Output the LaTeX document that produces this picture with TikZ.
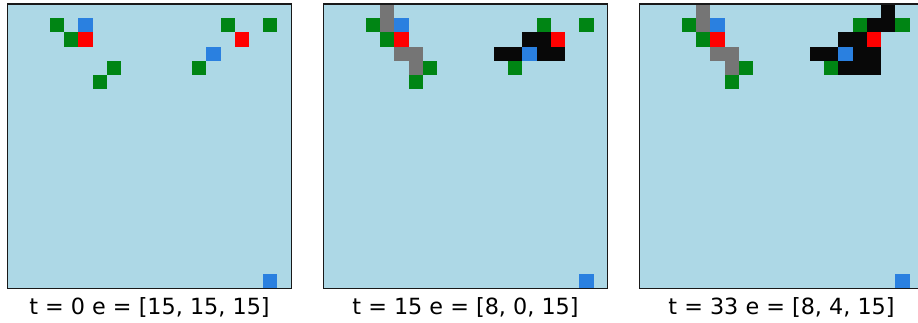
\documentclass[tikz,border=0pt]{standalone}
\usepackage{fontspec}
\setmainfont{DejaVu Sans}
\usepackage{xcolor}

\definecolor{gridbg}{HTML}{ADD8E6}
\definecolor{agentgreen}{HTML}{008514}
\definecolor{agentblue}{HTML}{2A80E0}
\definecolor{agentred}{HTML}{FF0000}
\definecolor{trailgray}{HTML}{757575}
\definecolor{trailblack}{HTML}{080808}

\tikzset{
	panel/.style={draw=black!90,line width=1.5pt},
	cellbox/.style={fill=#1,draw=none},
	caption/.style={font=\fontsize{22.3}{26}\selectfont,anchor=base}
}

\begin{document}
\begin{tikzpicture}[x=14.22pt,y=-14.22pt]
	\clip (-0.513,-0.281) rectangle (64.04,22.363);
	\useasboundingbox (-0.513,-0.281) rectangle (64.04,22.363);

	% ---------------- t = 0 (Left) ----------------
	\begin{scope}
		\fill[gridbg] (0,0) rectangle (20,20);
		\foreach \c/\r in {3/1,4/2,7/4,6/5,15/1,18/1,13/4}
			\fill[cellbox=agentgreen] (\c,\r) rectangle ++(1,1);
		\foreach \c/\r in {5/1,14/3,18/19}
			\fill[cellbox=agentblue] (\c,\r) rectangle ++(1,1);
		\foreach \c/\r in {5/2,16/2}
			\fill[cellbox=agentred] (\c,\r) rectangle ++(1,1);
		\draw[panel] (0,0) rectangle (20,20);
		\node[caption] (capA) at (10,21.82) {t = 0 e = [15, 15, 15]};
	\end{scope}

	% ---------------- t = 15 (Middle) ----------------
	\begin{scope}[shift={(22.222,0)}]
		\fill[gridbg] (0,0) rectangle (20,20);
		\foreach \c/\r in {4/0,4/1,5/3,6/3,6/4}
			\fill[cellbox=trailgray] (\c,\r) rectangle ++(1,1);
		\foreach \c/\r in {14/2,15/2,12/3,13/3,15/3,16/3}
			\fill[cellbox=trailblack] (\c,\r) rectangle ++(1,1);
		\foreach \c/\r in {3/1,4/2,7/4,6/5,15/1,18/1,13/4}
			\fill[cellbox=agentgreen] (\c,\r) rectangle ++(1,1);
		\foreach \c/\r in {5/1,14/3,18/19}
			\fill[cellbox=agentblue] (\c,\r) rectangle ++(1,1);
		\foreach \c/\r in {5/2,16/2}
			\fill[cellbox=agentred] (\c,\r) rectangle ++(1,1);
		\draw[panel] (0,0) rectangle (20,20);
		\node[caption] (capB) at (10,21.82) {t = 15 e = [8, 0, 15]};
	\end{scope}

	% ---------------- t = 33 (Right) ----------------
	\begin{scope}[shift={(44.444,0)}]
		\fill[gridbg] (0,0) rectangle (20,20);
		\foreach \c/\r in {4/0,4/1,5/3,6/3,6/4}
			\fill[cellbox=trailgray] (\c,\r) rectangle ++(1,1);
		\foreach \c/\r in {17/0,16/1,17/1,14/2,15/2,12/3,13/3,15/3,16/3,14/4,15/4,16/4}
			\fill[cellbox=trailblack] (\c,\r) rectangle ++(1,1);
		\foreach \c/\r in {3/1,4/2,7/4,6/5,15/1,18/1,13/4}
			\fill[cellbox=agentgreen] (\c,\r) rectangle ++(1,1);
		\foreach \c/\r in {5/1,14/3,18/19}
			\fill[cellbox=agentblue] (\c,\r) rectangle ++(1,1);
		\foreach \c/\r in {5/2,16/2}
			\fill[cellbox=agentred] (\c,\r) rectangle ++(1,1);
		\draw[panel] (0,0) rectangle (20,20);
		\node[caption] (capC) at (10,21.82) {t = 33 e = [8, 4, 15]};
	\end{scope}
\end{tikzpicture}
\end{document}
